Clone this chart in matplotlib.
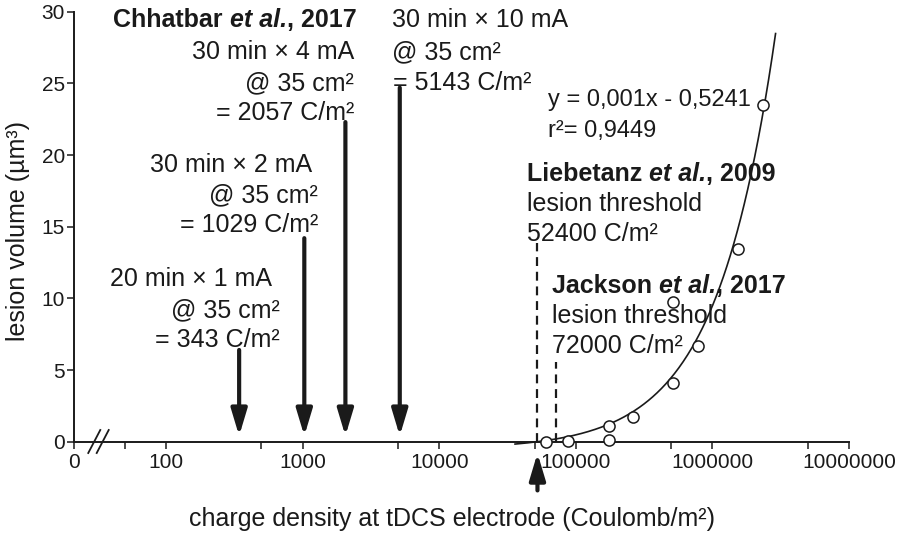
import matplotlib
matplotlib.use("Agg")
import matplotlib.pyplot as plt
import numpy as np

plt.rcParams['font.family'] = ['Liberation Sans', 'DejaVu Sans']

# measured lesion volumes
charge = [60500, 88100, 175000, 175000, 261000, 517000, 517000, 780000, 1549000, 2360000]
volume = [0.0, 0.07, 1.12, 0.1, 1.74, 4.12, 9.77, 6.70, 13.45, 23.5]

# fit: y = 0,001x - 0,5241 (x in hundreds of C/m2)
slope = 0.001 / 100
intercept = -0.5241
fit_from, fit_to = 35900, 2.9e6

# stimulation protocols (downward arrows)
protocols = [343, 1029, 2057, 5143]
arrow_top = [6.4, 14.2, 22.3, 24.7]

# lesion thresholds (dashed)
thresholds = [52400, 72000]
thresh_top = [13.85, 5.56]

xticks = [100, 1000, 10000, 100000, 1000000, 10000000]
xminor = [50, 500, 5000, 50000, 500000, 5000000]
x_left = 21.2

ink = '#1a1a1a'
fs = 18

fig = plt.figure(figsize=(9, 5.33), dpi=100)
ax = fig.add_axes([74 / 900, (533 - 441.7) / 533, 775 / 900, 430 / 533])
ax.set_xscale('log')
ax.set_xlim(x_left, 1e7)
ax.set_ylim(0, 30)

for s in ['top', 'right']:
    ax.spines[s].set_visible(False)
for s in ['left', 'bottom']:
    ax.spines[s].set_linewidth(1.4)
    ax.spines[s].set_color(ink)

ax.set_xticks([x_left] + xticks)
ax.set_xticklabels(['0'] + [str(t) for t in xticks])
ax.set_xticks(xminor, minor=True)
ax.set_yticks(range(0, 31, 5))
ax.tick_params(axis='both', which='both', direction='out', length=5, width=1.1,
               colors=ink, labelsize=15)
ax.tick_params(axis='x', pad=3)
ax.tick_params(axis='y', pad=1.5)

ax.set_xlabel('charge density at tDCS electrode (Coulomb/m²)', fontsize=fs, color=ink)
ax.set_ylabel('lesion volume (µm³)', fontsize=fs, color=ink)
ax.xaxis.set_label_coords(0.4877, -0.152)
ax.yaxis.set_label_coords(-0.057, 0.49)

# axis break
for x0 in (0.0184, 0.0293):
    ax.plot([x0, x0 + 0.0155], [-0.0263, 0.0272], transform=ax.transAxes,
            color=ink, lw=1.3, clip_on=False)

# fit curve
xf = np.logspace(np.log10(fit_from), np.log10(fit_to), 300)
ax.plot(xf, slope * xf + intercept, color=ink, lw=1.2, clip_on=False, zorder=3)

# data points
ax.plot(charge, volume, 'o', ms=8, mfc='white', mec=ink, mew=1.1,
        clip_on=False, zorder=4)

# thresholds
for xv, top in zip(thresholds, thresh_top):
    ax.plot([xv, xv], [0, top], color=ink, lw=1.6, dashes=(4, 2.6), zorder=2)

# protocol arrows
aprops = dict(arrowstyle='-|>,head_width=0.24,head_length=0.8', lw=3.0,
              color=ink, shrinkA=0, shrinkB=0, mutation_scale=20)
for xv, top in zip(protocols, arrow_top):
    ax.annotate('', xy=(xv, 0.4), xytext=(xv, top), arrowprops=aprops)
ax.annotate('', xy=(thresholds[0], -0.8), xytext=(thresholds[0], -3.4),
            arrowprops=aprops, annotation_clip=False)


def pos(px, py):
    return ((px - 74) / 775, (441.7 - py) / 430)


def line(px, py, s, ha='left', size=fs, **kw):
    return ax.text(*pos(px, py), s, transform=ax.transAxes, ha=ha,
                   va='baseline', fontsize=size, color=ink, **kw)


def citation(px, py, name, year):
    t = line(px, py, name + ' ', weight='bold')
    t = ax.annotate('et al.', xy=(1, 0), xycoords=t, va='bottom', ha='left',
                    fontsize=fs, color=ink, weight='bold', style='italic')
    ax.annotate(', ' + year, xy=(1, 0), xycoords=t, va='bottom', ha='left',
                fontsize=fs, color=ink, weight='bold')


citation(113, 27, 'Chhatbar', '2017')
line(354, 59, '30 min × 4 mA', ha='right')
line(354, 90, '@ 35 cm²', ha='right')
line(354, 120, '= 2057 C/m²', ha='right')

line(392, 27, '30 min × 10 mA')
line(392, 59, '@ 35 cm²')
line(393, 90, '= 5143 C/m²')

line(312, 172, '30 min × 2 mA', ha='right')
line(318, 202, '@ 35 cm²', ha='right')
line(318, 232, '= 1029 C/m²', ha='right')

line(272, 286, '20 min × 1 mA', ha='right')
line(280, 317, '@ 35 cm²', ha='right')
line(280, 347, '= 343 C/m²', ha='right')

citation(527, 181, 'Liebetanz', '2009')
line(527, 211, 'lesion threshold')
line(527, 241, '52400 C/m²')

citation(552, 293, 'Jackson', '2017')
line(552, 323, 'lesion threshold')
line(552, 353, '72000 C/m²')

line(548, 106, 'y = 0,001x - 0,5241', size=17)
line(548, 137, 'r²= 0,9449', size=17)

fig.savefig('out.png', dpi=100)
